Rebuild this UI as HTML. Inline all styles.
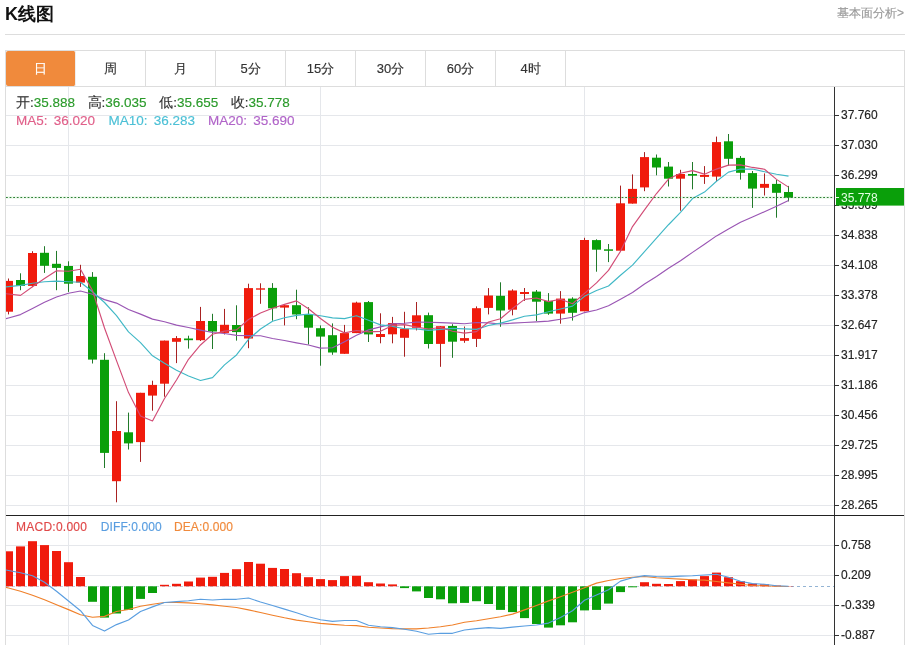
<!DOCTYPE html>
<html><head><meta charset="utf-8"><style>
*{margin:0;padding:0;box-sizing:border-box}
html,body{width:909px;height:645px;overflow:hidden;background:#fff;font-family:"Liberation Sans",sans-serif;color:#333}
.wrap{position:absolute;left:0;top:0;width:909px;height:645px;will-change:transform}
.title{position:absolute;left:5px;top:2px;font-size:18px;font-weight:bold;color:#111;line-height:24px}
.more{position:absolute;right:5px;top:4px;font-size:12px;color:#999;line-height:18px;font-weight:500}
.hr{position:absolute;left:5px;top:34px;width:900px;height:1px;background:#ddd}
.box{position:absolute;left:5px;top:50px;width:900px;height:600px;border:1px solid #ddd}
.tabline{position:absolute;left:5px;top:86px;width:900px;height:1px;background:#ddd}
.tab{position:absolute;top:51px;width:70px;height:35px;border-right:1px solid #ddd;text-align:center;line-height:36px;font-size:13px;color:#333;font-weight:500}
.tab.sel{background:#f08a3c;color:#fff;border-right:1px solid #eee;border-radius:2px}
.leg{position:absolute;left:16px;font-size:13.5px;line-height:16px;white-space:nowrap}
.leg span{display:inline-block}
.leg,.macdleg,.tab,.more{-webkit-text-stroke:0.15px currentColor}
.k{color:#333;font-weight:500} .gv{color:#2a9a2a}
.macdleg{position:absolute;left:16px;top:519.3px;font-size:12px;line-height:16px;white-space:nowrap}
</style></head><body><div class="wrap">
<div class="title">K线图</div>
<div class="more">基本面分析&gt;</div>
<div class="hr"></div>
<div class="box"></div>
<div class="tab sel" style="left:6px">日</div><div class="tab" style="left:76px">周</div><div class="tab" style="left:146px">月</div><div class="tab" style="left:216px">5分</div><div class="tab" style="left:286px">15分</div><div class="tab" style="left:356px">30分</div><div class="tab" style="left:426px">60分</div><div class="tab" style="left:496px">4时</div>
<div class="tabline"></div>
<svg width="909" height="645" viewBox="0 0 909 645" style="position:absolute;left:0;top:0"><defs><clipPath id="cm"><rect x="6" y="87" width="828" height="428"/></clipPath><clipPath id="cd"><rect x="6" y="516" width="828" height="130"/></clipPath></defs><g stroke="#e5e7eb" stroke-width="1"><line x1="6" y1="115.5" x2="834" y2="115.5"/><line x1="6" y1="145.5" x2="834" y2="145.5"/><line x1="6" y1="175.5" x2="834" y2="175.5"/><line x1="6" y1="205.5" x2="834" y2="205.5"/><line x1="6" y1="235.5" x2="834" y2="235.5"/><line x1="6" y1="265.5" x2="834" y2="265.5"/><line x1="6" y1="295.5" x2="834" y2="295.5"/><line x1="6" y1="325.5" x2="834" y2="325.5"/><line x1="6" y1="355.5" x2="834" y2="355.5"/><line x1="6" y1="385.5" x2="834" y2="385.5"/><line x1="6" y1="415.5" x2="834" y2="415.5"/><line x1="6" y1="445.5" x2="834" y2="445.5"/><line x1="6" y1="475.5" x2="834" y2="475.5"/><line x1="6" y1="505.5" x2="834" y2="505.5"/><line x1="68.5" y1="87" x2="68.5" y2="645"/><line x1="320.5" y1="87" x2="320.5" y2="645"/><line x1="584.5" y1="87" x2="584.5" y2="645"/><line x1="6" y1="545.5" x2="834" y2="545.5"/><line x1="6" y1="575.5" x2="834" y2="575.5"/><line x1="6" y1="605.5" x2="834" y2="605.5"/><line x1="6" y1="635.5" x2="834" y2="635.5"/></g><line x1="6" y1="197.5" x2="834" y2="197.5" stroke="#f0faf0" stroke-width="3"/><g clip-path="url(#cm)"><rect x="8" y="278.5" width="1" height="35.9" fill="#a82222"/><rect x="4" y="280.9" width="9" height="30.8" fill="#f01b0c"/><rect x="20" y="273.3" width="1" height="16.9" fill="#217a2a"/><rect x="16" y="280" width="9" height="5.9" fill="#0a9f0a"/><rect x="32" y="251.2" width="1" height="35.9" fill="#a82222"/><rect x="28" y="253" width="9" height="32.9" fill="#f01b0c"/><rect x="44" y="246.2" width="1" height="26.7" fill="#217a2a"/><rect x="40" y="252.8" width="9" height="13" fill="#0a9f0a"/><rect x="56" y="250.9" width="1" height="39.3" fill="#217a2a"/><rect x="52" y="263.8" width="9" height="4.1" fill="#0a9f0a"/><rect x="68" y="261.3" width="1" height="30.6" fill="#217a2a"/><rect x="64" y="266" width="9" height="17.7" fill="#0a9f0a"/><rect x="80" y="264.8" width="1" height="22.1" fill="#a82222"/><rect x="76" y="276" width="9" height="6.6" fill="#f01b0c"/><rect x="92" y="272.1" width="1" height="91.4" fill="#217a2a"/><rect x="88" y="276.8" width="9" height="82.8" fill="#0a9f0a"/><rect x="104" y="353.2" width="1" height="114.8" fill="#217a2a"/><rect x="100" y="359.8" width="9" height="93.1" fill="#0a9f0a"/><rect x="116" y="401.2" width="1" height="101.1" fill="#a82222"/><rect x="112" y="431" width="9" height="50.2" fill="#f01b0c"/><rect x="128" y="412.6" width="1" height="36.9" fill="#217a2a"/><rect x="124" y="432.3" width="9" height="11.1" fill="#0a9f0a"/><rect x="140" y="392.8" width="1" height="69.1" fill="#a82222"/><rect x="136" y="392.8" width="9" height="49.3" fill="#f01b0c"/><rect x="152" y="380.7" width="1" height="30" fill="#a82222"/><rect x="148" y="384.9" width="9" height="10.7" fill="#f01b0c"/><rect x="164" y="340.6" width="1" height="56.1" fill="#a82222"/><rect x="160" y="340.6" width="9" height="43.1" fill="#f01b0c"/><rect x="176" y="336.1" width="1" height="27" fill="#a82222"/><rect x="172" y="338.1" width="9" height="3.7" fill="#f01b0c"/><rect x="188" y="335.7" width="1" height="12.9" fill="#217a2a"/><rect x="184" y="338.5" width="9" height="1.7" fill="#0a9f0a"/><rect x="200" y="306.9" width="1" height="34.1" fill="#a82222"/><rect x="196" y="321" width="9" height="19.2" fill="#f01b0c"/><rect x="212" y="313.8" width="1" height="35.2" fill="#217a2a"/><rect x="208" y="321" width="9" height="10.5" fill="#0a9f0a"/><rect x="224" y="308.9" width="1" height="25.6" fill="#a82222"/><rect x="220" y="324.8" width="9" height="8.1" fill="#f01b0c"/><rect x="236" y="305.3" width="1" height="35.3" fill="#217a2a"/><rect x="232" y="325" width="9" height="7.1" fill="#0a9f0a"/><rect x="248" y="283.7" width="1" height="64.5" fill="#a82222"/><rect x="244" y="288.1" width="9" height="50.4" fill="#f01b0c"/><rect x="260" y="283.3" width="1" height="20.5" fill="#a82222"/><rect x="256" y="288.3" width="9" height="1.4" fill="#f01b0c"/><rect x="272" y="283.1" width="1" height="37.6" fill="#217a2a"/><rect x="268" y="287.9" width="9" height="20.4" fill="#0a9f0a"/><rect x="284" y="305.2" width="1" height="20.2" fill="#a82222"/><rect x="280" y="305.2" width="9" height="2.4" fill="#f01b0c"/><rect x="296" y="289.7" width="1" height="29.5" fill="#217a2a"/><rect x="292" y="305.2" width="9" height="9.3" fill="#0a9f0a"/><rect x="308" y="307.2" width="1" height="37.3" fill="#217a2a"/><rect x="304" y="315" width="9" height="12.7" fill="#0a9f0a"/><rect x="320" y="325.4" width="1" height="40.3" fill="#217a2a"/><rect x="316" y="328.2" width="9" height="8.4" fill="#0a9f0a"/><rect x="332" y="323.4" width="1" height="31.4" fill="#217a2a"/><rect x="328" y="335.2" width="9" height="17.3" fill="#0a9f0a"/><rect x="344" y="324.9" width="1" height="28.9" fill="#a82222"/><rect x="340" y="333.1" width="9" height="20.7" fill="#f01b0c"/><rect x="356" y="301.7" width="1" height="31.4" fill="#a82222"/><rect x="352" y="302.6" width="9" height="30.5" fill="#f01b0c"/><rect x="368" y="301" width="1" height="41" fill="#217a2a"/><rect x="364" y="302.1" width="9" height="32.3" fill="#0a9f0a"/><rect x="380" y="313.3" width="1" height="30" fill="#a82222"/><rect x="376" y="334" width="9" height="3" fill="#f01b0c"/><rect x="392" y="316.9" width="1" height="26.4" fill="#a82222"/><rect x="388" y="323.1" width="9" height="11.2" fill="#f01b0c"/><rect x="404" y="311.8" width="1" height="44.9" fill="#a82222"/><rect x="400" y="328.8" width="9" height="9" fill="#f01b0c"/><rect x="416" y="302" width="1" height="28.4" fill="#a82222"/><rect x="412" y="315.3" width="9" height="12.5" fill="#f01b0c"/><rect x="428" y="312.6" width="1" height="35.9" fill="#217a2a"/><rect x="424" y="315.2" width="9" height="28.8" fill="#0a9f0a"/><rect x="440" y="326.2" width="1" height="40.6" fill="#a82222"/><rect x="436" y="326.2" width="9" height="17.7" fill="#f01b0c"/><rect x="452" y="324.2" width="1" height="33.6" fill="#217a2a"/><rect x="448" y="326" width="9" height="15.7" fill="#0a9f0a"/><rect x="464" y="326.5" width="1" height="16.3" fill="#a82222"/><rect x="460" y="338.1" width="9" height="2.7" fill="#f01b0c"/><rect x="476" y="306.4" width="1" height="40.6" fill="#a82222"/><rect x="472" y="308.2" width="9" height="30.7" fill="#f01b0c"/><rect x="488" y="288.1" width="1" height="26.3" fill="#a82222"/><rect x="484" y="295.5" width="9" height="12.4" fill="#f01b0c"/><rect x="500" y="282.3" width="1" height="44.5" fill="#217a2a"/><rect x="496" y="295.8" width="9" height="14.7" fill="#0a9f0a"/><rect x="512" y="289.3" width="1" height="26" fill="#a82222"/><rect x="508" y="290.5" width="9" height="19.2" fill="#f01b0c"/><rect x="524" y="288" width="1" height="12.9" fill="#a82222"/><rect x="520" y="292" width="9" height="2" fill="#f01b0c"/><rect x="536" y="290" width="1" height="31" fill="#217a2a"/><rect x="532" y="291.6" width="9" height="10.1" fill="#0a9f0a"/><rect x="548" y="293.1" width="1" height="21.7" fill="#217a2a"/><rect x="544" y="300.9" width="9" height="12.7" fill="#0a9f0a"/><rect x="560" y="291.1" width="1" height="32.6" fill="#a82222"/><rect x="556" y="298.6" width="9" height="15" fill="#f01b0c"/><rect x="572" y="297.3" width="1" height="23.3" fill="#217a2a"/><rect x="568" y="298.6" width="9" height="14.2" fill="#0a9f0a"/><rect x="584" y="237.8" width="1" height="73.5" fill="#a82222"/><rect x="580" y="240" width="9" height="71.3" fill="#f01b0c"/><rect x="596" y="239.3" width="1" height="32.4" fill="#217a2a"/><rect x="592" y="240.1" width="9" height="9.6" fill="#0a9f0a"/><rect x="608" y="244" width="1" height="18.1" fill="#217a2a"/><rect x="604" y="249.3" width="9" height="1.5" fill="#0a9f0a"/><rect x="620" y="185.6" width="1" height="66" fill="#a82222"/><rect x="616" y="203.3" width="9" height="47.4" fill="#f01b0c"/><rect x="632" y="174.4" width="1" height="29.2" fill="#a82222"/><rect x="628" y="188.9" width="9" height="14.7" fill="#f01b0c"/><rect x="644" y="152.1" width="1" height="39.1" fill="#a82222"/><rect x="640" y="157.1" width="9" height="30.3" fill="#f01b0c"/><rect x="656" y="154.5" width="1" height="20.8" fill="#217a2a"/><rect x="652" y="157.7" width="9" height="9.8" fill="#0a9f0a"/><rect x="668" y="162" width="1" height="24.5" fill="#217a2a"/><rect x="664" y="166.6" width="9" height="12.1" fill="#0a9f0a"/><rect x="680" y="169.8" width="1" height="40.9" fill="#a82222"/><rect x="676" y="174" width="9" height="4.7" fill="#f01b0c"/><rect x="692" y="162" width="1" height="27.3" fill="#217a2a"/><rect x="688" y="174" width="9" height="1.7" fill="#0a9f0a"/><rect x="704" y="166.1" width="1" height="17.8" fill="#a82222"/><rect x="700" y="174.9" width="9" height="2" fill="#f01b0c"/><rect x="716" y="136.6" width="1" height="45" fill="#a82222"/><rect x="712" y="142.1" width="9" height="34.5" fill="#f01b0c"/><rect x="728" y="134" width="1" height="31.6" fill="#217a2a"/><rect x="724" y="141.3" width="9" height="17.5" fill="#0a9f0a"/><rect x="740" y="156" width="1" height="23.6" fill="#217a2a"/><rect x="736" y="157.9" width="9" height="14.9" fill="#0a9f0a"/><rect x="752" y="171" width="1" height="36.9" fill="#217a2a"/><rect x="748" y="173.1" width="9" height="15.5" fill="#0a9f0a"/><rect x="764" y="173.4" width="1" height="22.1" fill="#a82222"/><rect x="760" y="183.9" width="9" height="3.9" fill="#f01b0c"/><rect x="776" y="180" width="1" height="37.7" fill="#217a2a"/><rect x="772" y="183.9" width="9" height="8.9" fill="#0a9f0a"/><rect x="788" y="185.9" width="1" height="15.5" fill="#217a2a"/><rect x="784" y="192" width="9" height="5.6" fill="#0a9f0a"/></g><polyline clip-path="url(#cm)" points="-3.5,321.4 8.5,318 20.5,314.6 32.5,308.4 44.5,302.2 56.5,297 68.5,293.3 80.5,291 92.5,294.3 104.5,299.6 116.5,303.1 128.5,309.5 140.5,314.1 152.5,319.1 164.5,321.8 176.5,325.1 188.5,327.5 200.5,330.1 212.5,332.5 224.5,333.5 236.5,335.31 248.5,335.67 260.5,335.78 272.5,338.55 284.5,340.52 296.5,342.85 308.5,345.05 320.5,348.08 332.5,347.73 344.5,341.74 356.5,335.31 368.5,329.87 380.5,326.93 392.5,323.83 404.5,323.25 416.5,322.11 428.5,322.3 440.5,322.56 452.5,323.06 464.5,323.73 476.5,322.53 488.5,322.91 500.5,324.01 512.5,323.12 524.5,322.47 536.5,321.82 548.5,321.12 560.5,319.22 572.5,317.24 584.5,312.58 596.5,309.94 608.5,305.75 620.5,299.22 632.5,292.51 644.5,283.93 656.5,276.53 668.5,268.27 680.5,260.66 692.5,252.36 704.5,244.2 716.5,235.89 728.5,229.06 740.5,222.18 752.5,217.08 764.5,211.68 776.5,206.23 788.5,200.43" fill="none" stroke="#9a56b4" stroke-width="1.15" stroke-linejoin="round"/><polyline clip-path="url(#cm)" points="-3.5,287.8 8.5,286.6 20.5,285.4 32.5,283.3 44.5,281.7 56.5,281.1 68.5,281.7 80.5,282.3 92.5,291.8 104.5,302.5 116.5,315.67 128.5,331.92 140.5,342.61 152.5,355.8 164.5,363.28 176.5,370.3 188.5,375.95 200.5,380.45 212.5,377.64 224.5,364.83 236.5,354.94 248.5,339.41 260.5,328.96 272.5,321.3 284.5,317.76 296.5,315.4 308.5,314.15 320.5,315.71 332.5,317.81 344.5,318.64 356.5,315.69 368.5,320.32 380.5,324.89 392.5,326.37 404.5,328.73 416.5,328.81 428.5,330.44 440.5,329.4 452.5,328.32 464.5,328.82 476.5,329.38 488.5,325.49 500.5,323.14 512.5,319.88 524.5,316.2 536.5,314.84 548.5,311.8 560.5,309.04 572.5,306.15 584.5,296.34 596.5,290.49 608.5,286.02 620.5,275.3 632.5,265.14 644.5,251.65 656.5,238.23 668.5,224.74 680.5,212.28 692.5,198.57 704.5,192.06 716.5,181.3 728.5,172.1 740.5,169.05 752.5,169.02 764.5,171.7 776.5,174.23 788.5,176.12" fill="none" stroke="#40b8c6" stroke-width="1.15" stroke-linejoin="round"/><polyline clip-path="url(#cm)" points="-3.5,292.6 8.5,294 20.5,295.4 32.5,286.7 44.5,278.6 56.5,270.7 68.5,271.26 80.5,269.28 92.5,290.6 104.5,328.02 116.5,360.64 128.5,392.58 140.5,415.94 152.5,421 164.5,398.54 176.5,379.96 188.5,359.32 200.5,344.96 212.5,334.28 224.5,331.12 236.5,329.92 248.5,319.5 260.5,312.96 272.5,308.32 284.5,304.4 296.5,300.88 308.5,308.8 320.5,318.46 332.5,327.3 344.5,332.88 356.5,330.5 368.5,331.84 380.5,331.32 392.5,325.44 404.5,324.58 416.5,327.12 428.5,329.04 440.5,327.48 452.5,331.2 464.5,333.06 476.5,331.64 488.5,321.94 500.5,318.8 512.5,308.56 524.5,299.34 536.5,298.04 548.5,301.66 560.5,299.28 572.5,303.74 584.5,293.34 596.5,282.94 608.5,270.38 620.5,251.32 632.5,226.54 644.5,209.96 656.5,193.52 668.5,179.1 680.5,173.24 692.5,170.6 704.5,174.16 716.5,169.08 728.5,165.1 740.5,164.86 752.5,167.44 764.5,169.24 776.5,179.38 788.5,187.14" fill="none" stroke="#d24c76" stroke-width="1.15" stroke-linejoin="round"/><line x1="6" y1="197.5" x2="834" y2="197.5" stroke="#2e8036" stroke-width="1" stroke-dasharray="1.8,1.8"/><line x1="791" y1="586.5" x2="834" y2="586.5" stroke="#94b4d4" stroke-width="1" stroke-dasharray="3,3"/><line x1="6" y1="586.5" x2="791" y2="586.5" stroke="#c4d2e2" stroke-width="1" stroke-dasharray="3,3"/><g clip-path="url(#cd)"><rect x="4" y="551.3" width="9" height="35" fill="#f01b0c"/><rect x="16" y="546.4" width="9" height="39.9" fill="#f01b0c"/><rect x="28" y="541.2" width="9" height="45.1" fill="#f01b0c"/><rect x="40" y="545.1" width="9" height="41.2" fill="#f01b0c"/><rect x="52" y="551" width="9" height="35.3" fill="#f01b0c"/><rect x="64" y="562.2" width="9" height="24.1" fill="#f01b0c"/><rect x="76" y="577" width="9" height="9.3" fill="#f01b0c"/><rect x="88" y="586.3" width="9" height="15.5" fill="#0a9f0a"/><rect x="100" y="586.3" width="9" height="31.3" fill="#0a9f0a"/><rect x="112" y="586.3" width="9" height="27.2" fill="#0a9f0a"/><rect x="124" y="586.3" width="9" height="23.6" fill="#0a9f0a"/><rect x="136" y="586.3" width="9" height="12.6" fill="#0a9f0a"/><rect x="148" y="586.3" width="9" height="6.7" fill="#0a9f0a"/><rect x="160" y="584.8" width="9" height="1.5" fill="#f01b0c"/><rect x="172" y="583.8" width="9" height="2.5" fill="#f01b0c"/><rect x="184" y="581.5" width="9" height="4.8" fill="#f01b0c"/><rect x="196" y="577.6" width="9" height="8.7" fill="#f01b0c"/><rect x="208" y="576.8" width="9" height="9.5" fill="#f01b0c"/><rect x="220" y="572.9" width="9" height="13.4" fill="#f01b0c"/><rect x="232" y="569.2" width="9" height="17.1" fill="#f01b0c"/><rect x="244" y="562" width="9" height="24.3" fill="#f01b0c"/><rect x="256" y="563.7" width="9" height="22.6" fill="#f01b0c"/><rect x="268" y="567.9" width="9" height="18.4" fill="#f01b0c"/><rect x="280" y="569" width="9" height="17.3" fill="#f01b0c"/><rect x="292" y="573.2" width="9" height="13.1" fill="#f01b0c"/><rect x="304" y="577.2" width="9" height="9.1" fill="#f01b0c"/><rect x="316" y="579.1" width="9" height="7.2" fill="#f01b0c"/><rect x="328" y="580.1" width="9" height="6.2" fill="#f01b0c"/><rect x="340" y="576.1" width="9" height="10.2" fill="#f01b0c"/><rect x="352" y="575.8" width="9" height="10.5" fill="#f01b0c"/><rect x="364" y="582.2" width="9" height="4.1" fill="#f01b0c"/><rect x="376" y="583.5" width="9" height="2.8" fill="#f01b0c"/><rect x="388" y="584.4" width="9" height="1.9" fill="#f01b0c"/><rect x="400" y="586.3" width="9" height="1.8" fill="#0a9f0a"/><rect x="412" y="586.3" width="9" height="5.1" fill="#0a9f0a"/><rect x="424" y="586.3" width="9" height="11.7" fill="#0a9f0a"/><rect x="436" y="586.3" width="9" height="13" fill="#0a9f0a"/><rect x="448" y="586.3" width="9" height="17" fill="#0a9f0a"/><rect x="460" y="586.3" width="9" height="16.6" fill="#0a9f0a"/><rect x="472" y="586.3" width="9" height="14.9" fill="#0a9f0a"/><rect x="484" y="586.3" width="9" height="17.7" fill="#0a9f0a"/><rect x="496" y="586.3" width="9" height="23.6" fill="#0a9f0a"/><rect x="508" y="586.3" width="9" height="25.8" fill="#0a9f0a"/><rect x="520" y="586.3" width="9" height="31.8" fill="#0a9f0a"/><rect x="532" y="586.3" width="9" height="37.7" fill="#0a9f0a"/><rect x="544" y="586.3" width="9" height="41.3" fill="#0a9f0a"/><rect x="556" y="586.3" width="9" height="39" fill="#0a9f0a"/><rect x="568" y="586.3" width="9" height="36" fill="#0a9f0a"/><rect x="580" y="586.3" width="9" height="24.1" fill="#0a9f0a"/><rect x="592" y="586.3" width="9" height="23.6" fill="#0a9f0a"/><rect x="604" y="586.3" width="9" height="17.3" fill="#0a9f0a"/><rect x="616" y="586.3" width="9" height="5.8" fill="#0a9f0a"/><rect x="628" y="586.3" width="9" height="1" fill="#0a9f0a"/><rect x="640" y="582.2" width="9" height="4.1" fill="#f01b0c"/><rect x="652" y="583.8" width="9" height="2.5" fill="#f01b0c"/><rect x="664" y="584" width="9" height="2.3" fill="#f01b0c"/><rect x="676" y="581.1" width="9" height="5.2" fill="#f01b0c"/><rect x="688" y="579.4" width="9" height="6.9" fill="#f01b0c"/><rect x="700" y="576.1" width="9" height="10.2" fill="#f01b0c"/><rect x="712" y="572.6" width="9" height="13.7" fill="#f01b0c"/><rect x="724" y="577.2" width="9" height="9.1" fill="#f01b0c"/><rect x="736" y="581.2" width="9" height="5.1" fill="#f01b0c"/><rect x="748" y="583.6" width="9" height="2.7" fill="#f01b0c"/><rect x="760" y="584.3" width="9" height="2" fill="#f01b0c"/><rect x="772" y="585.5" width="9" height="0.8" fill="#f01b0c"/><rect x="784" y="586" width="9" height="0.3" fill="#f01b0c"/></g><polyline clip-path="url(#cd)" points="-3.5,584.8 8.5,588 20.5,591.2 32.5,595.3 44.5,599.8 56.5,604.7 68.5,609.6 80.5,614.8 92.5,617.2 104.5,616.4 116.5,611.5 128.5,609.5 140.5,606.2 152.5,604.2 164.5,602.5 176.5,602.5 188.5,602.9 200.5,603.8 212.5,604.9 224.5,606.2 236.5,607.5 248.5,609.9 260.5,612.5 272.5,615.2 284.5,617.8 296.5,620.1 308.5,621.8 320.5,623.4 332.5,624.4 344.5,625.3 356.5,625.6 368.5,627.3 380.5,628 392.5,628.6 404.5,628.9 416.5,628.9 428.5,628 440.5,626.7 452.5,625 464.5,622.3 476.5,620.7 488.5,618.7 500.5,616.8 512.5,614.1 524.5,609.9 536.5,605.5 548.5,600.9 560.5,596.7 572.5,592.3 584.5,587.7 596.5,583.1 608.5,580.5 620.5,578.5 632.5,577.2 644.5,576.5 656.5,577.8 668.5,578.5 680.5,579.1 692.5,579.8 704.5,580.1 716.5,581.5 728.5,582.9 740.5,584.3 752.5,585.5 764.5,585.8 776.5,586.2 788.5,586.5" fill="none" stroke="#f0802a" stroke-width="1.15" stroke-linejoin="round"/><polyline clip-path="url(#cd)" points="-3.5,568.2 8.5,570.5 20.5,572.8 32.5,575.7 44.5,582.2 56.5,591.2 68.5,601 80.5,610.7 92.5,625.4 104.5,631.1 116.5,624.6 128.5,620 140.5,611.5 152.5,606.9 164.5,602.5 176.5,601.6 188.5,600.7 200.5,599.3 212.5,600 224.5,599.3 236.5,599.3 248.5,598 260.5,602 272.5,605.5 284.5,609.1 296.5,612.8 308.5,616.8 320.5,619.7 332.5,621.4 344.5,620.5 356.5,620.5 368.5,625.3 380.5,626.7 392.5,627.6 404.5,629.3 416.5,631.3 428.5,634.2 440.5,633.3 452.5,633.3 464.5,630 476.5,628.6 488.5,627.6 500.5,628.4 512.5,627.1 524.5,626 536.5,625 548.5,623.1 560.5,617.4 572.5,610.8 584.5,600.3 596.5,595 608.5,589.7 620.5,581.1 632.5,577.8 644.5,575.6 656.5,576.5 668.5,576.9 680.5,576.1 692.5,575.8 704.5,575 716.5,574.3 728.5,577.2 740.5,581.2 752.5,583.6 764.5,584.3 776.5,585.8 788.5,586.2" fill="none" stroke="#5a9ee0" stroke-width="1.15" stroke-linejoin="round"/><g font-family="Liberation Sans, sans-serif" font-size="12" fill="#222" stroke="#222" stroke-width="0.15"><line x1="834.5" y1="87" x2="834.5" y2="645" stroke="#333" stroke-width="1"/><line x1="6" y1="515.5" x2="904" y2="515.5" stroke="#222" stroke-width="1"/><line x1="835" y1="115.5" x2="839" y2="115.5" stroke="#333" stroke-width="1"/><text x="841" y="119.1">37.760</text><line x1="835" y1="145.5" x2="839" y2="145.5" stroke="#333" stroke-width="1"/><text x="841" y="149.1">37.030</text><line x1="835" y1="175.5" x2="839" y2="175.5" stroke="#333" stroke-width="1"/><text x="841" y="179.1">36.299</text><line x1="835" y1="205.5" x2="839" y2="205.5" stroke="#333" stroke-width="1"/><text x="841" y="209.1">35.569</text><line x1="835" y1="235.5" x2="839" y2="235.5" stroke="#333" stroke-width="1"/><text x="841" y="239.1">34.838</text><line x1="835" y1="265.5" x2="839" y2="265.5" stroke="#333" stroke-width="1"/><text x="841" y="269.1">34.108</text><line x1="835" y1="295.5" x2="839" y2="295.5" stroke="#333" stroke-width="1"/><text x="841" y="299.1">33.378</text><line x1="835" y1="325.5" x2="839" y2="325.5" stroke="#333" stroke-width="1"/><text x="841" y="329.1">32.647</text><line x1="835" y1="355.5" x2="839" y2="355.5" stroke="#333" stroke-width="1"/><text x="841" y="359.1">31.917</text><line x1="835" y1="385.5" x2="839" y2="385.5" stroke="#333" stroke-width="1"/><text x="841" y="389.1">31.186</text><line x1="835" y1="415.5" x2="839" y2="415.5" stroke="#333" stroke-width="1"/><text x="841" y="419.1">30.456</text><line x1="835" y1="445.5" x2="839" y2="445.5" stroke="#333" stroke-width="1"/><text x="841" y="449.1">29.725</text><line x1="835" y1="475.5" x2="839" y2="475.5" stroke="#333" stroke-width="1"/><text x="841" y="479.1">28.995</text><line x1="835" y1="505.5" x2="839" y2="505.5" stroke="#333" stroke-width="1"/><text x="841" y="509.1">28.265</text><line x1="835" y1="545.5" x2="839" y2="545.5" stroke="#333" stroke-width="1"/><text x="841" y="549.1">0.758</text><line x1="835" y1="575.5" x2="839" y2="575.5" stroke="#333" stroke-width="1"/><text x="841" y="579.1">0.209</text><line x1="835" y1="605.5" x2="839" y2="605.5" stroke="#333" stroke-width="1"/><text x="841" y="609.1">-0.339</text><line x1="835" y1="635.5" x2="839" y2="635.5" stroke="#333" stroke-width="1"/><text x="841" y="639.1">-0.887</text></g><rect x="836" y="188" width="68" height="17.6" fill="#0a9f0a"/><line x1="836" y1="197.5" x2="839" y2="197.5" stroke="#e8ffe8"/><text x="841" y="201.5" font-family="Liberation Sans, sans-serif" font-size="12" fill="#e4ffe4">35.778</text></svg>
<div class="leg" style="top:95px"><span class="k">开:</span><span class="gv">35.888</span><span class="k" style="margin-left:12.5px">高:</span><span class="gv">36.035</span><span class="k" style="margin-left:12.5px">低:</span><span class="gv">35.655</span><span class="k" style="margin-left:12.5px">收:</span><span class="gv">35.778</span></div>
<div class="leg" style="top:113px;word-spacing:2.5px"><span style="color:#e0608a">MA5: 36.020</span><span style="color:#4cc0d6;margin-left:13.4px">MA10: 36.283</span><span style="color:#b064c8;margin-left:12.9px">MA20: 35.690</span></div>
<div class="macdleg"><span style="color:#e04848;letter-spacing:0.25px">MACD:0.000</span><span style="color:#5a9ee0;margin-left:13.6px;letter-spacing:0.1px">DIFF:0.000</span><span style="color:#f08a3c;margin-left:12.1px;letter-spacing:0.13px">DEA:0.000</span></div>
</div></body></html>
